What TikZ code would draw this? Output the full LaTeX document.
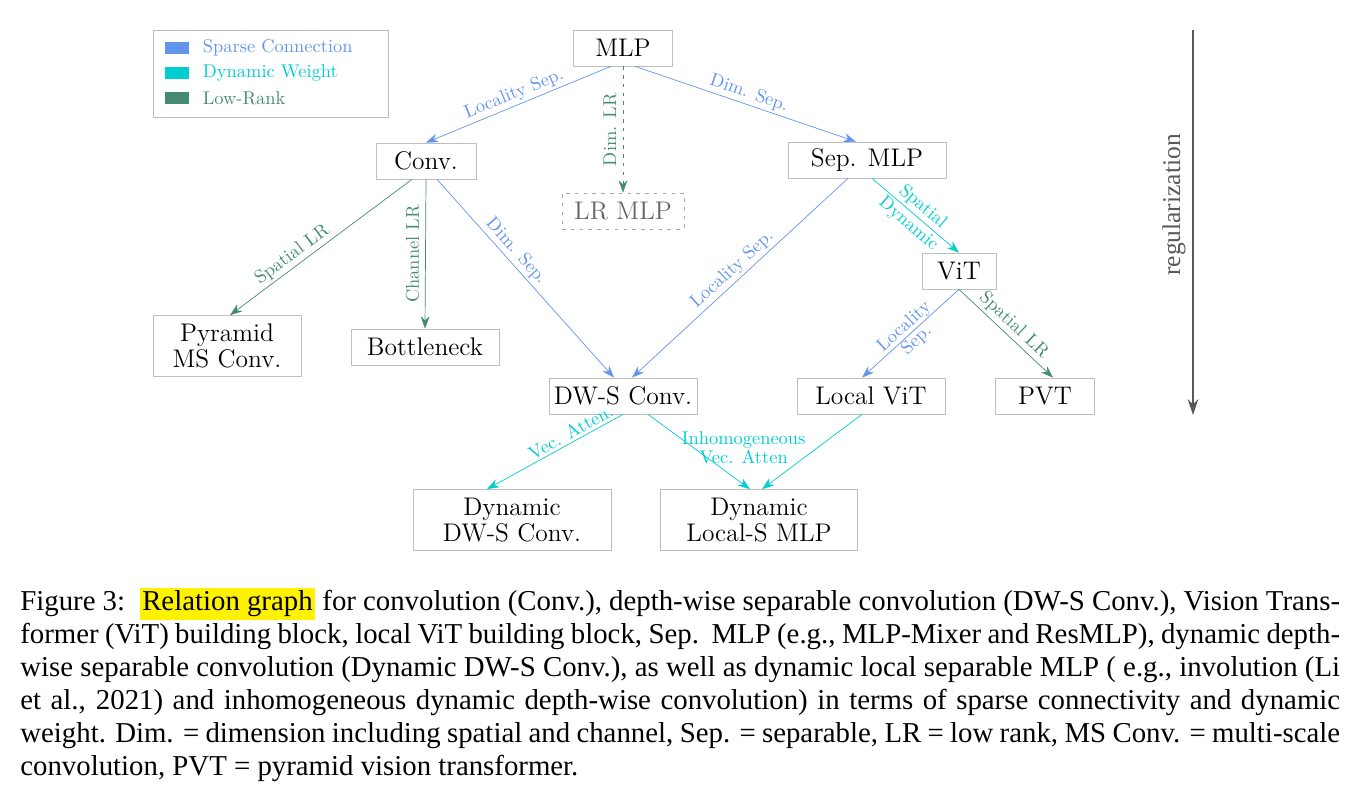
\documentclass[tikz,border=0pt]{standalone}
\usepackage{fontspec}
\newfontfamily\capfont{Liberation Serif}
\usetikzlibrary{arrows.meta,positioning}
\definecolor{sparse}{RGB}{100,149,237}
\definecolor{dynw}{RGB}{0,206,209}
\definecolor{lowrank}{RGB}{69,139,116}
\begin{document}
\begin{tikzpicture}[
    x=0.02cm, y=-0.02cm,
    block/.style={
        draw=black!25,
        font=\fontsize{14.5}{17}\selectfont,
        align=center,
        inner sep=0pt,
        minimum height=0.72cm
    },
    lbl/.style={
        font=\fontsize{10.5}{11}\selectfont,
        inner sep=1.5pt
    },
    sp/.style={draw=sparse, -{Stealth[length=7pt,width=5pt]}},
    dw/.style={draw=dynw, -{Stealth[length=7pt,width=5pt]}},
    lr/.style={draw=lowrank, -{Stealth[length=7pt,width=5pt]}},
    swatch/.style={minimum width=0.5cm, minimum height=0.24cm, inner sep=0pt},
    ]
    \useasboundingbox (0,0) rectangle (1350,787);
    % nodes
    \node[block, minimum width=1.98cm] (mlp) at (623,48) {MLP};
    \node[block, minimum width=2cm] (conv) at (426,161) {Conv.};
    \node[block, minimum width=2.44cm, draw=black!35, dash pattern=on 2pt off 3pt, text=black!60] (lrmlp) at (623,211) {LR MLP};
    \node[block, minimum width=3.16cm] (sepmlp) at (867,160) {Sep. MLP};
    \node[block, minimum width=1.48cm] (vit) at (959,271) {ViT};
    \node[block, minimum width=2.96cm, minimum height=1.22cm] (pyr) at (227,346) {Pyramid\\[-2pt]MS Conv.};
    \node[block, minimum width=2.96cm] (bneck) at (425,347) {Bottleneck};
    \node[block, minimum width=2.96cm] (dws) at (623,396) {DW-S Conv.};
    \node[block, minimum width=2.96cm] (lvit) at (871,396) {Local ViT};
    \node[block, minimum width=1.98cm] (pvt) at (1045,396) {PVT};
    \node[block, minimum width=3.96cm, minimum height=1.22cm] (ddws) at (512,520) {Dynamic\\[-2pt]DW-S Conv.};
    \node[block, minimum width=3.94cm, minimum height=1.22cm] (dlmlp) at (759,520) {Dynamic\\[-2pt]Local-S MLP};
    % legend
    \draw[black!25] (153,30) rectangle (388,117);
    \node[swatch, fill=sparse] (s1) at (177,48) {};
    \node[swatch, fill=dynw] (s2) at (177,73) {};
    \node[swatch, fill=lowrank] (s3) at (177,98) {};
    \node[lbl, text=sparse, right=0.2cm of s1] {Sparse Connection};
    \node[lbl, text=dynw, right=0.2cm of s2] {Dynamic Weight};
    \node[lbl, text=lowrank, right=0.2cm of s3] {Low-Rank};
    % edges
    \draw[sp] ([xshift=-0.24cm]mlp.south) -- (conv.north)
        node[lbl, midway, sloped, above, text=sparse] {Locality Sep.};
    \draw[sp] ([xshift=0.24cm]mlp.south) -- ([xshift=-0.22cm]sepmlp.north)
        node[lbl, midway, sloped, above, text=sparse] {Dim. Sep.};
    \draw[lr, dash pattern=on 2pt off 3pt] (mlp.south) -- (lrmlp.north)
        node[lbl, midway, xshift=-0.26cm, rotate=90, text=lowrank] {Dim. LR};
    \draw[lr] ([xshift=-0.28cm]conv.south) -- ([xshift=0.06cm]pyr.north)
        node[lbl, pos=0.62, sloped, above, text=lowrank] {Spatial LR};
    \draw[lr] (conv.south) -- (bneck.north)
        node[lbl, midway, xshift=-0.26cm, rotate=90, text=lowrank] {Channel LR};
    \draw[sp] ([xshift=0.22cm]conv.south) -- ([xshift=-0.18cm]dws.north)
        node[lbl, pos=0.4, sloped, above, text=sparse] {Dim. Sep.};
    \draw[sp] ([xshift=-0.38cm]sepmlp.south) -- ([xshift=0.18cm]dws.north)
        node[lbl, midway, sloped, above, text=sparse] {Locality Sep.};
    \draw[dw] ([xshift=0.1cm]sepmlp.south) -- (vit.north)
        node[lbl, midway, sloped, above, text=dynw] {Spatial}
        node[lbl, midway, sloped, below, text=dynw] {Dynamic};
    \draw[sp] (vit.south) -- ([xshift=-0.18cm]lvit.north)
        node[lbl, midway, sloped, align=center, text=sparse, font=\fontsize{10.5}{10.5}\selectfont] {Locality\\Sep.};
    \draw[lr] (vit.south) -- ([xshift=0.16cm]pvt.north)
        node[lbl, midway, sloped, above, text=lowrank] {Spatial LR};
    \draw[dw] (dws.south) -- ([xshift=-0.5cm]ddws.north)
        node[lbl, pos=0.35, sloped, above, text=dynw] {Vec. Atten.};
    \draw[dw] ([xshift=0.5cm]dws.south) -- ([xshift=-0.18cm]dlmlp.north)
        node[lbl, pos=0.45, right=-0.3cm, align=center, text=dynw, font=\fontsize{10.5}{10.5}\selectfont] {Inhomogeneous\\Vec. Atten};
    \draw[dw] ([xshift=-0.18cm]lvit.south) -- ([xshift=0.06cm]dlmlp.north);
    % axis
    \coordinate (rtop) at (1193,30);
    \coordinate (rbot) at (1193,415);
    \draw[black!65, thick, -{Stealth[length=9pt,width=6pt]}] (rtop) -- (rbot);
    \node[rotate=90, text=black!65, font=\fontsize{14.5}{17}\capfont] at (1174,205) {regularization};
    % caption
    \node[anchor=north west, text width=26.4cm, inner sep=0pt, font=\fontsize{16.4}{18.7}\capfont, align=justify] (cap) at (20,588)
        {Figure 3: \hspace{0.1cm}{\setlength{\fboxsep}{1.5pt}\colorbox{yellow}{Relation graph}} for convolution (Conv.), depth-wise separable convolution (DW-S Conv.), Vision Transformer (ViT) building block, local ViT building block, Sep.\ \ MLP (e.g., MLP-Mixer and ResMLP), dynamic depth-wise separable convolution (Dynamic DW-S Conv.), as well as dynamic local separable MLP ( e.g., involution (Li et al., 2021) and inhomogeneous dynamic depth-wise convolution) in terms of sparse connectivity and dynamic weight. Dim. = dimension including spatial and channel, Sep. = separable, LR = low rank, MS Conv. = multi-scale convolution, PVT = pyramid vision transformer.};
\end{tikzpicture}
\end{document}
